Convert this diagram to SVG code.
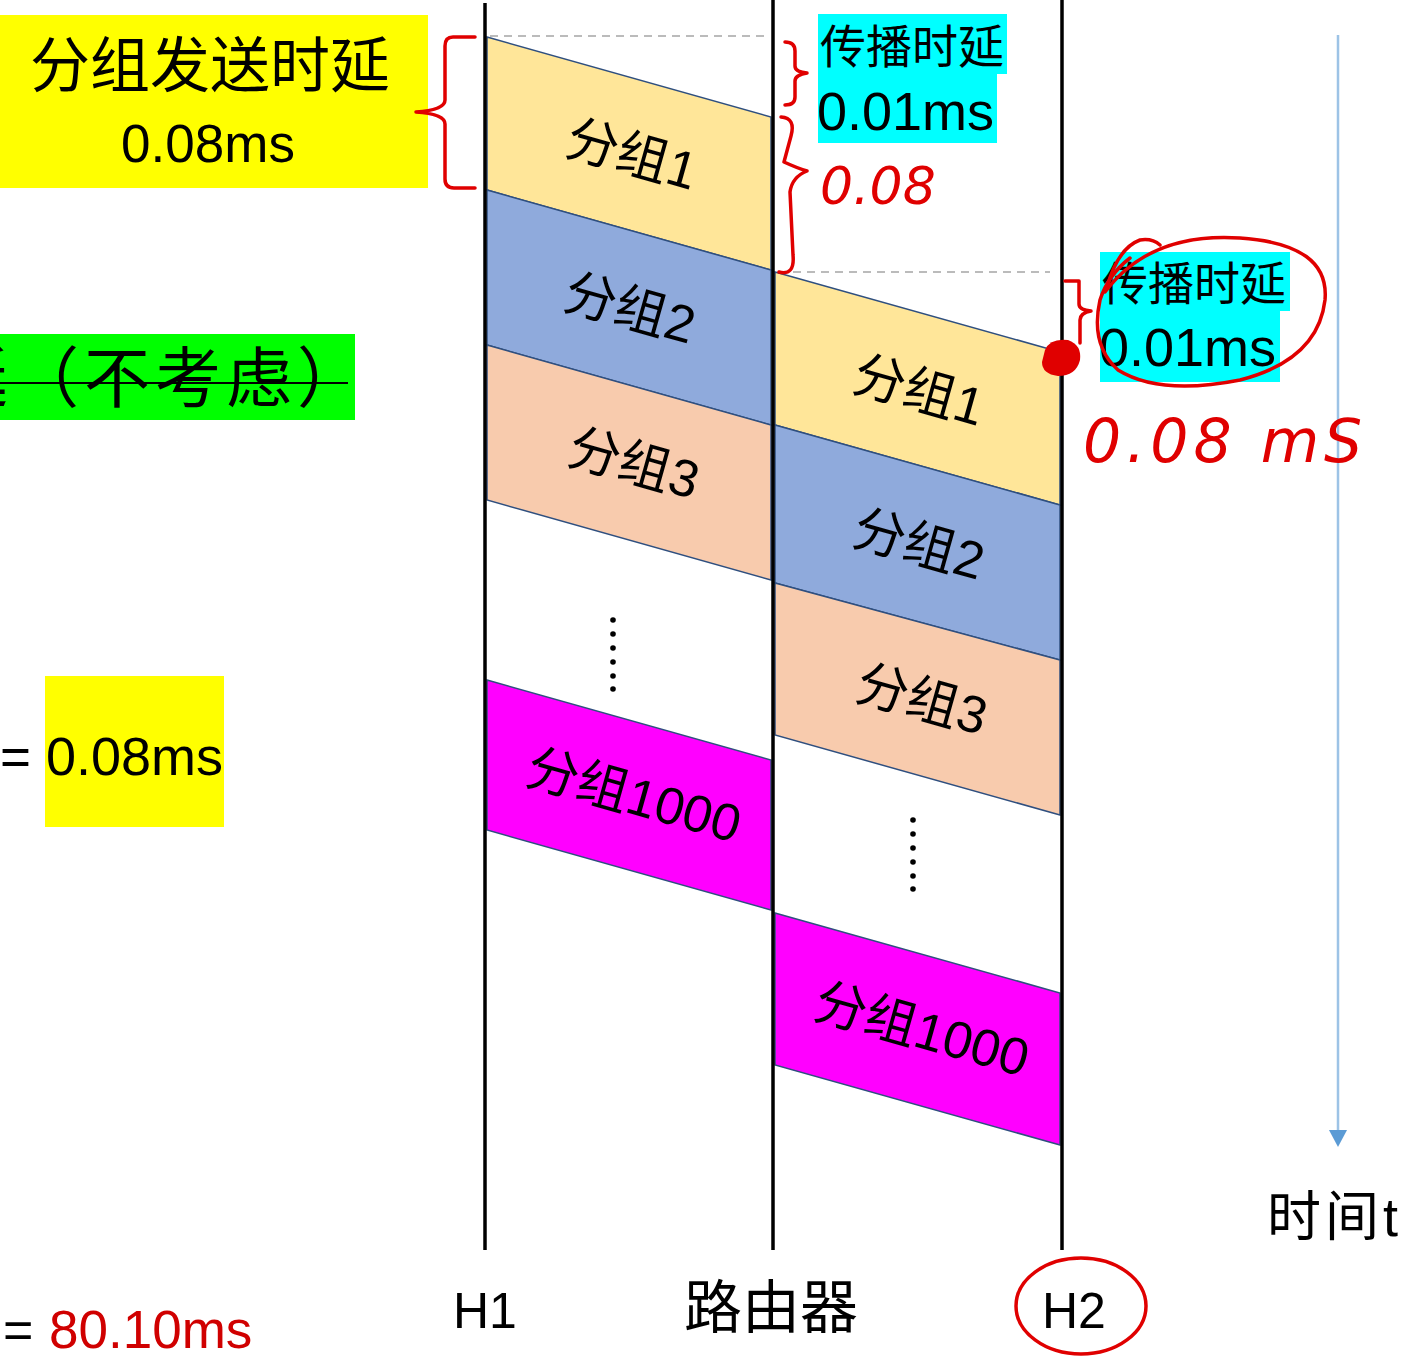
<svg xmlns="http://www.w3.org/2000/svg" width="1420" height="1360" viewBox="0 0 1420 1360">
<defs>
<style>
.t{font-family:"Liberation Sans","Noto Sans CJK SC",sans-serif;fill:#000}
.cjk{font-family:"Noto Sans CJK SC",sans-serif;fill:#000}
.life{stroke:#000;stroke-width:3.5;fill:none}
.pk{stroke:#2F4F7F;stroke-width:1.5}
.y{fill:#FFE699}.b{fill:#8FAADC}.p{fill:#F8CBAD}.m{fill:#FF00FF}
.lbl{font-family:"Liberation Sans","Noto Sans CJK SC",sans-serif;font-size:52px;text-anchor:middle;fill:#000}
.red{stroke:#E00000;stroke-width:3.5;fill:none;stroke-linecap:round;stroke-linejoin:round}
.hand{font-family:"DejaVu Sans",sans-serif;fill:#E00000;font-style:italic;font-weight:200}
.dash{stroke:#BBBBBB;stroke-width:2;stroke-dasharray:8 6}
.dot{fill:#000}
</style>
</defs>
<rect width="1420" height="1360" fill="#FFFFFF"/>

<g id="connectors">
<line class="dash" x1="490" y1="36" x2="768" y2="36"/>
<line class="dash" x1="793" y1="272" x2="1050" y2="272"/>
<line x1="1338" y1="35" x2="1338" y2="1130" stroke="#9DC3E6" stroke-width="2.5"/>
<path d="M1329,1130 L1347,1130 L1338,1147 Z" fill="#5B9BD5"/>
</g>

<g id="packets-h1">
<g id="h1-p1"><polygon class="pk y" points="487,37 771,117 771,270 487,190"/><text class="lbl" transform="translate(627,172) rotate(15.7)">分组1</text></g>
<g id="h1-p2"><polygon class="pk b" points="487,190 771,270 771,425 487,345"/><text class="lbl" transform="translate(625,326) rotate(15.7)">分组2</text></g>
<g id="h1-p3"><polygon class="pk p" points="487,345 771,425 771,580 487,500"/><text class="lbl" transform="translate(629,481) rotate(15.7)">分组3</text></g>
<g id="h1-dots"><circle class="dot" cx="613" cy="620" r="2.8"/><circle class="dot" cx="613" cy="634" r="2.8"/><circle class="dot" cx="613" cy="648" r="2.8"/><circle class="dot" cx="613" cy="662" r="2.8"/><circle class="dot" cx="613" cy="676" r="2.8"/><circle class="dot" cx="613" cy="689" r="2.8"/></g>
<g id="h1-p1000"><polygon class="pk m" points="487,680 771,760 771,910 487,830"/><text class="lbl" transform="translate(629,813) rotate(15.7)">分组1000</text></g>
</g>

<g id="packets-router">
<g id="r-p1"><polygon class="pk y" points="775,272 1060,352 1060,505 775,425"/><text class="lbl" transform="translate(914,408) rotate(15.7)">分组1</text></g>
<g id="r-p2"><polygon class="pk b" points="775,425 1060,505 1060,660 775,583"/><text class="lbl" transform="translate(914,562) rotate(15.7)">分组2</text></g>
<g id="r-p3"><polygon class="pk p" points="775,583 1060,660 1060,815 775,735"/><text class="lbl" transform="translate(917,717) rotate(15.7)">分组3</text></g>
<g id="r-dots"><circle class="dot" cx="913" cy="820" r="2.8"/><circle class="dot" cx="913" cy="834" r="2.8"/><circle class="dot" cx="913" cy="848" r="2.8"/><circle class="dot" cx="913" cy="862" r="2.8"/><circle class="dot" cx="913" cy="876" r="2.8"/><circle class="dot" cx="913" cy="889" r="2.8"/></g>
<g id="r-p1000"><polygon class="pk m" points="775,913 1060,993 1060,1145 775,1065"/><text class="lbl" transform="translate(917,1047) rotate(15.7)">分组1000</text></g>
</g>

<g id="lifelines">
<line class="life" x1="485" y1="3" x2="485" y2="1250"/>
<line class="life" x1="773" y1="0" x2="773" y2="1250"/>
<line class="life" x1="1062" y1="0" x2="1062" y2="1250"/>
</g>

<g id="label-send-delay">
<rect x="0" y="15" width="428" height="173" fill="#FFFF00"/>
<text class="t" x="210" y="87" font-size="60" text-anchor="middle">分组发送时延</text>
<text class="t" x="208" y="162" font-size="53" text-anchor="middle">0.08ms</text>
</g>

<g id="label-prop-1">
<rect x="818" y="14" width="189" height="60" fill="#00FFFF"/>
<rect x="818" y="73" width="179" height="70" fill="#00FFFF"/>
<text class="t" x="820" y="63" font-size="46">传播时延</text>
<text class="t" x="817" y="130" font-size="54">0.01ms</text>
</g>

<g id="label-prop-2">
<rect x="1100" y="252" width="190" height="59" fill="#00FFFF"/>
<rect x="1100" y="310" width="180" height="72" fill="#00FFFF"/>
<text class="t" x="1102" y="300" font-size="46">传播时延</text>
<text class="t" x="1099" y="366" font-size="54">0.01ms</text>
</g>

<g id="label-ignore">
<rect x="0" y="334" width="355" height="86" fill="#00FF00"/>
<text class="cjk" x="-58" y="402" font-size="66" letter-spacing="5">延（不考虑）</text>
<line x1="0" y1="383" x2="348" y2="383" stroke="#000" stroke-width="2"/>
</g>

<g id="label-eq1">
<rect x="45" y="676" width="179" height="151" fill="#FFFF00"/>
<text class="t" x="0" y="775" font-size="53">=</text>
<text class="t" x="46" y="775" font-size="54">0.08ms</text>
</g>

<g id="label-total">
<text class="t" x="3" y="1348" font-size="52">=</text>
<text class="t" x="49" y="1348" font-size="53" style="fill:#D00000">80.10ms</text>
</g>

<g id="axis-labels">
<text class="t" x="453" y="1328" font-size="50">H1</text>
<text class="cjk" x="684" y="1328" font-size="58">路由器</text>
<text class="t" x="1042" y="1328" font-size="50">H2</text>
<text class="t" x="1267" y="1236" font-size="54" letter-spacing="4">时间t</text>
</g>

<g id="annotations">
<path class="red" d="M475,37 L453,37 Q445,37 445,46 L445,100 Q445,110 416,112 Q445,114 445,124 L445,179 Q445,188 454,188 L475,188"/>
<path class="red" d="M785,42 Q795,42 795,51 L795,66 Q795,72 807,73 Q795,75 795,81 L795,97 Q795,105 785,105"/>
<path class="red" d="M781,117 Q796,118 791,136 L784,162 Q797,168 807,171 Q792,177 790,192 L793,255 Q795,276 779,272"/>
<text class="hand" x="820" y="204" font-size="52">0.08</text>
<path class="red" d="M1065,281 L1079,281 L1079,304 Q1079,310 1091,311 Q1080,313 1080,320 L1080,343"/>
<path d="M1045,350 Q1050,338 1068,340 Q1082,345 1080,360 Q1076,376 1058,376 Q1042,374 1042,362 Z" fill="#E00000"/>
<path class="red" d="M1105,292 Q1150,232 1240,238 Q1330,244 1325,300 Q1318,360 1240,380 Q1160,396 1118,370 Q1090,345 1100,300 Q1108,275 1130,258"/>
<path class="red" d="M1107,287 Q1118,248 1140,240 Q1152,238 1160,245"/>
<text class="hand" x="1083" y="462" font-size="60" letter-spacing="5">0.08 mS</text>
<ellipse cx="1081" cy="1306" rx="65" ry="48" class="red"/>
</g>
</svg>
